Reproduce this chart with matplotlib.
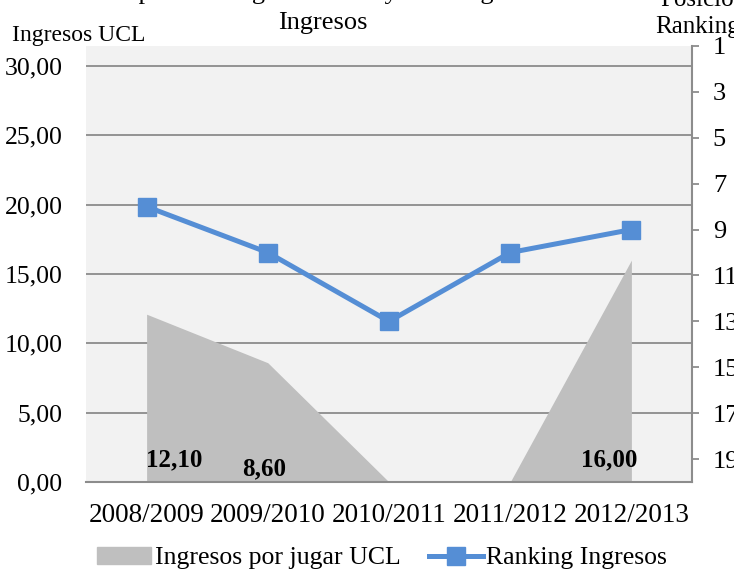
import numpy as np
import matplotlib.pyplot as plt
from matplotlib.patches import Patch
from matplotlib.lines import Line2D

plt.rcParams['font.family'] = ['Liberation Serif', 'DejaVu Serif']

# data
temporadas = ['2008/2009', '2009/2010', '2010/2011', '2011/2012', '2012/2013']
ingresos_ucl = [12.10, 8.60, 0.0, 0.0, 16.00]
ranking = [8, 10, 13, 10, 9]
etiquetas = ['12,10', '8,60', '', '', '16,00']
# where excel drew the data labels (offset from category, y in axis units)
lab_dx = [0.23, -0.03, 0, 0, -0.18]
lab_y = [1.59, 0.94, 0, 0, 1.59]

W, H = 734, 571
fig = plt.figure(figsize=(W / 100, H / 100), dpi=100)
ax = fig.add_axes([86 / W, (H - 482) / H, 606 / W, 436 / H])
ax.set_facecolor('#f2f2f2')

x = np.arange(len(temporadas))
ax.fill_between(x, ingresos_ucl, 0, color='#bfbfbf', lw=0, zorder=2)
ax.set_xlim(-0.5, 4.5)
ax.set_ylim(0, 31.44)
yt = np.arange(0, 31, 5)
ax.set_yticks(yt)
ax.set_yticklabels([('%.2f' % v).replace('.', ',') for v in yt])
ax.set_xticks(x)
ax.set_xticklabels(temporadas)
ax.grid(axis='y', color='#8c8c8c', lw=1.3, zorder=1)
ax.set_axisbelow(True)
ax.tick_params(axis='y', length=0, pad=17, labelsize=18.5)
ax.tick_params(axis='x', length=0, pad=15, labelsize=19.5)
for s in ['left', 'top', 'right']:
    ax.spines[s].set_visible(False)
ax.spines['bottom'].set_color('#8c8c8c')
ax.spines['bottom'].set_linewidth(1.5)
ax.spines['bottom'].set_zorder(5)

for i, t in enumerate(etiquetas):
    if t:
        ax.text(x[i] + lab_dx[i], lab_y[i], t, ha='center', va='center',
                fontsize=18, fontweight='bold', zorder=6)

ax2 = ax.twinx()
ax2.plot(x, ranking, color='#558ed5', lw=3.6, marker='s', markersize=13,
         zorder=4)
ax2.set_ylim(20, 1)
ax2.set_yticks(np.arange(1, 20, 2))
ax2.tick_params(axis='y', length=5, width=1.3, color='#8c8c8c', labelsize=19, pad=10)
for s in ['left', 'top', 'bottom']:
    ax2.spines[s].set_visible(False)
ax2.spines['right'].set_color('#8c8c8c')
ax2.spines['right'].set_linewidth(1.5)

# titles
fig.text(12 / W, 1 - 35 / H, 'Ingresos UCL', ha='left', va='center', fontsize=17)
fig.text(655 / W, 1 - 33 / H, 'Ranking', ha='left', va='baseline', fontsize=18)
fig.text(660 / W, 1 - 6 / H, 'Posición', ha='left', va='baseline', fontsize=18)
fig.text(323 / W, 1 - 29 / H, 'Ingresos', ha='center', va='baseline', fontsize=19)
fig.text(290 / W, 1 + 1 / H, 'Comparativa Ingresos UCL y Ranking', ha='center',
         va='baseline', fontsize=19)

handles = [Patch(color='#bfbfbf', label='Ingresos por jugar UCL'),
           Line2D([0], [0], color='#558ed5', lw=3.6, marker='s', markersize=13,
                  label='Ranking Ingresos')]
fig.legend(handles=handles, loc='center', bbox_to_anchor=(382 / W, 13 / H),
           ncol=2, frameon=False, fontsize=18.5, handlelength=2.1,
           handletextpad=0.15, columnspacing=1.1, borderaxespad=0)

fig.savefig('out.png', dpi=100)
